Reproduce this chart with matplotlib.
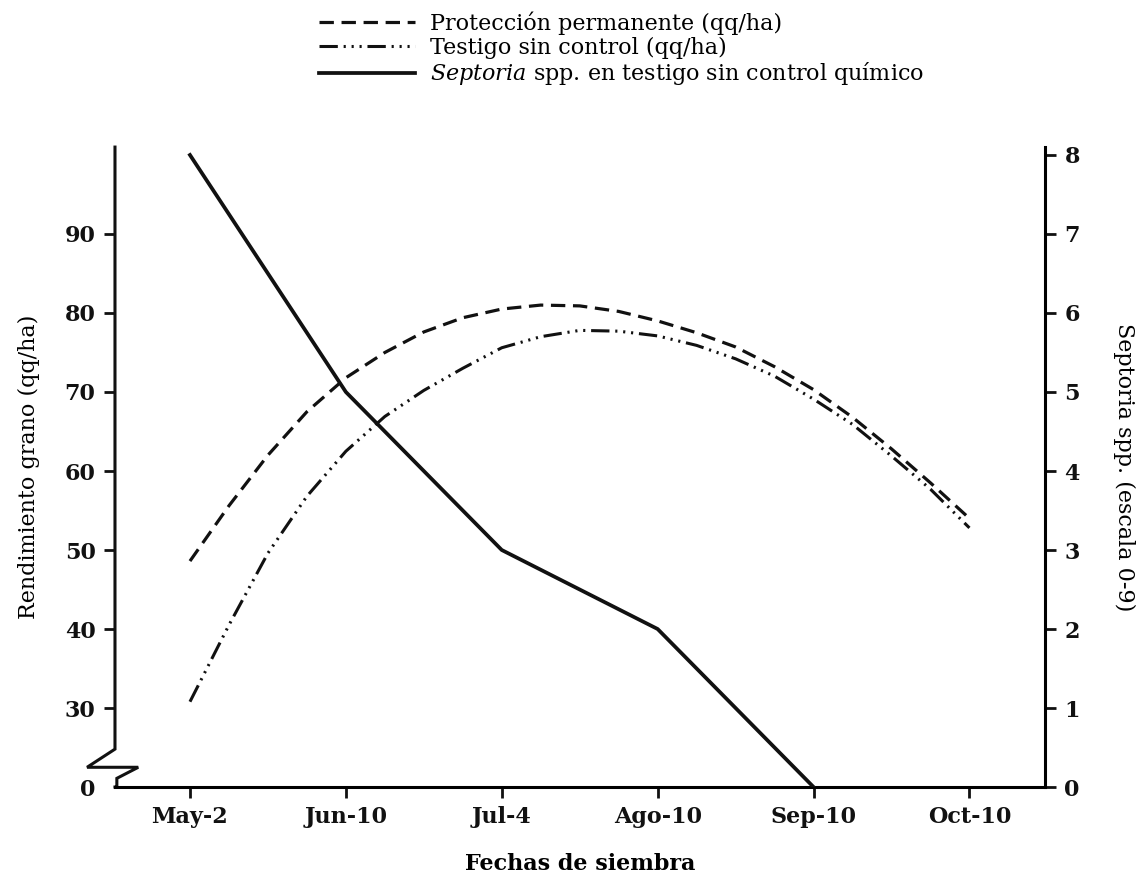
import matplotlib
matplotlib.use("Agg")
import matplotlib.pyplot as plt
from matplotlib.lines import Line2D

plt.rcParams["font.family"] = "DejaVu Serif"
plt.rcParams["mathtext.fontset"] = "dejavuserif"

# Sowing dates (x axis categories)
fechas = ["May-2", "Jun-10", "Jul-4", "Ago-10", "Sep-10", "Oct-10"]

# Yield curves (qq/ha), sampled every quarter step along the date axis
# (0 = May-2 ... 5 = Oct-10)
pos_curva = [0, 0.25, 0.5, 0.75, 1, 1.25, 1.5, 1.75, 2, 2.25, 2.5,
             2.75, 3, 3.25, 3.5, 3.75, 4, 4.25, 4.5, 4.75, 5]
proteccion = [48.6, 55.6, 62.0, 67.5, 71.8, 75.0, 77.6, 79.4, 80.5, 81.0, 80.9,
              80.2, 79.0, 77.5, 75.7, 73.2, 70.3, 66.8, 62.8, 58.5, 54.0]
testigo = [30.8, 40.5, 49.6, 56.8, 62.5, 66.9, 70.2, 73.0, 75.6, 77.0, 77.8,
           77.7, 77.1, 75.9, 74.2, 72.0, 69.1, 65.9, 61.9, 57.7, 52.8]

# Septoria score (0-9 scale) per sowing date
pos_septoria = [0, 1, 2, 3, 4]
septoria = [8, 5, 3, 2, 0]

yield_ticks = [30, 40, 50, 60, 70, 80, 90]
score_ticks = [0, 1, 2, 3, 4, 5, 6, 7, 8]

ls_prot = (0, (4.5, 2.4))
ls_test = (0, (6.0, 1.9, 0.7, 1.9, 0.7, 1.9, 0.7, 1.9))

fig = plt.figure(figsize=(11.43, 8.86), dpi=100)
ax = fig.add_axes([0.1006, 0.1117, 0.8137, 0.7223])
ax2 = ax.twinx()

ax.plot(pos_curva, proteccion, color="#111111", lw=2.3, linestyle=ls_prot)
ax.plot(pos_curva, testigo, color="#111111", lw=2.2, linestyle=ls_test)
ax2.plot(pos_septoria, septoria, color="#111111", lw=2.7, solid_joinstyle="round")

# left axis: yield, broken between 0 and 30 (bottom edge stands for 0)
ax.set_ylim(20, 101)
ax.set_yticks([20] + yield_ticks, ["0"] + [str(t) for t in yield_ticks])
ax.yaxis.get_major_ticks()[0].tick1line.set_visible(False)
ax.set_xlim(-0.481, 5.485)
ax.set_xticks(range(len(fechas)), fechas)

ax2.set_ylim(0, 8.1)
ax2.set_yticks(score_ticks)

for a in (ax, ax2):
    a.spines["top"].set_visible(False)
    a.spines["left"].set_visible(False)
    a.spines["right"].set_visible(False)
    a.tick_params(width=2.0, length=8, labelsize=16, colors="#111111", pad=6)
ax.spines["bottom"].set_linewidth(2.2)
ax2.spines["right"].set_visible(True)
ax2.spines["right"].set_linewidth(2.2)
for lab in ax.get_xticklabels() + ax.get_yticklabels() + ax2.get_yticklabels():
    lab.set_fontweight("bold")

# left spine drawn by hand with the break mark near the bottom
trans = ax.get_yaxis_transform()
ax.plot([0, 0, -0.030, 0.025, 0.002, 0.002, 0],
        [101, 24.8, 22.5, 22.5, 21.1, 20, 20],
        transform=trans, color="#111111", lw=2.2, clip_on=False,
        solid_joinstyle="miter")

ax.set_ylabel("Rendimiento grano (qq/ha)", fontsize=16, labelpad=18)
ax2.set_ylabel("Septoria spp. (escala 0-9)", fontsize=16, rotation=270,
               labelpad=40)
ax.set_xlabel("Fechas de siembra", fontsize=16, fontweight="bold", labelpad=18)

handles = [
    Line2D([], [], color="#111111", lw=2.3, linestyle=ls_prot),
    Line2D([], [], color="#111111", lw=2.2, linestyle=ls_test),
    Line2D([], [], color="#111111", lw=2.7),
]
labels = [
    "Protección permanente (qq/ha)",
    "Testigo sin control (qq/ha)",
    r"$\mathit{Septoria}$ spp. en testigo sin control químico",
]
fig.legend(handles, labels, loc="upper left", bbox_to_anchor=(0.2616, 1.01),
           frameon=False, fontsize=16, handlelength=4.3, handletextpad=0.68,
           labelspacing=0.08)

fig.savefig("out.png", dpi=100)
